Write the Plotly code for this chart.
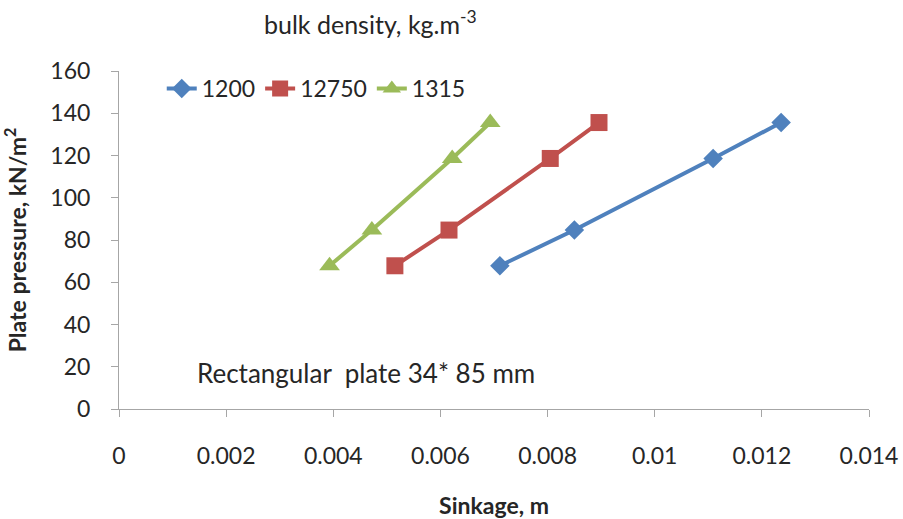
import plotly.graph_objects as go

# Plate sinkage (m) against plate pressure (kN/m2) for three bulk densities
pressure = [67.8, 84.7, 118.6, 135.6]
sinkage_1200 = [0.00711, 0.00850, 0.01109, 0.01236]
sinkage_12750 = [0.00515, 0.00616, 0.00805, 0.00896]
sinkage_1315 = [0.00393, 0.00472, 0.00622, 0.00693]
series_names = ["1200", "12750", "1315"]

FONT = "Lato"
TXT = "#262626"
AXIS = "#A6A6A6"

fig = go.Figure()
styles = [
    ("#4F81BD", "diamond", 15),
    ("#C0504D", "square", 17),
    ("#9BBB59", "triangle-up", 18),
]
for name, xs, (col, sym, sz) in zip(series_names, [sinkage_1200, sinkage_12750, sinkage_1315], styles):
    fig.add_trace(go.Scatter(
        x=xs, y=pressure, name=name, mode="lines+markers",
        line=dict(color=col, width=4),
        marker=dict(symbol=sym, size=sz, color=col),
    ))

fig.update_layout(
    width=903, height=519,
    margin=dict(l=119, r=34, t=71, b=110),
    paper_bgcolor="white", plot_bgcolor="white",
    font=dict(family=FONT, size=23, color=TXT),
    showlegend=True,
    legend=dict(orientation="h", x=0.057, y=1.012, xanchor="left", yanchor="top",
                font=dict(size=23, color=TXT), bgcolor="rgba(0,0,0,0)",
                itemwidth=30),
    xaxis=dict(range=[0, 0.014], dtick=0.002, tick0=0, showgrid=False,
               zeroline=False, showline=True, linecolor=AXIS, linewidth=1,
               ticks="outside", ticklen=7, tickcolor=AXIS, automargin=False,
               ticklabelstandoff=19, tickformat="~g",
               tickfont=dict(size=23),
               title=dict(text="<b>Sinkage, m</b>", font=dict(size=23), standoff=32)),
    yaxis=dict(range=[0, 160], dtick=20, showgrid=False, zeroline=False,
               showline=True, linecolor=AXIS, linewidth=1, automargin=False,
               ticks="outside", ticklen=7, tickcolor=AXIS,
               ticklabelstandoff=16, tickfont=dict(size=23),
               title=dict(text="<b>Plate pressure, kN/m<sup>2</sup></b>",
                          font=dict(size=23), standoff=30)),
    annotations=[
        dict(text="bulk density, kg.m<sup>-3</sup>", xref="paper", yref="paper",
             x=0.335, y=1.0, yshift=49, xanchor="center", yanchor="middle",
             showarrow=False, font=dict(size=25, color=TXT)),
        dict(text="Rectangular&nbsp; plate 34* 85 mm", xref="x", yref="y",
             x=0.00142, y=17, xanchor="left", yanchor="middle",
             showarrow=False, font=dict(size=26, color=TXT)),
    ],
)

fig.write_html("out.html")
